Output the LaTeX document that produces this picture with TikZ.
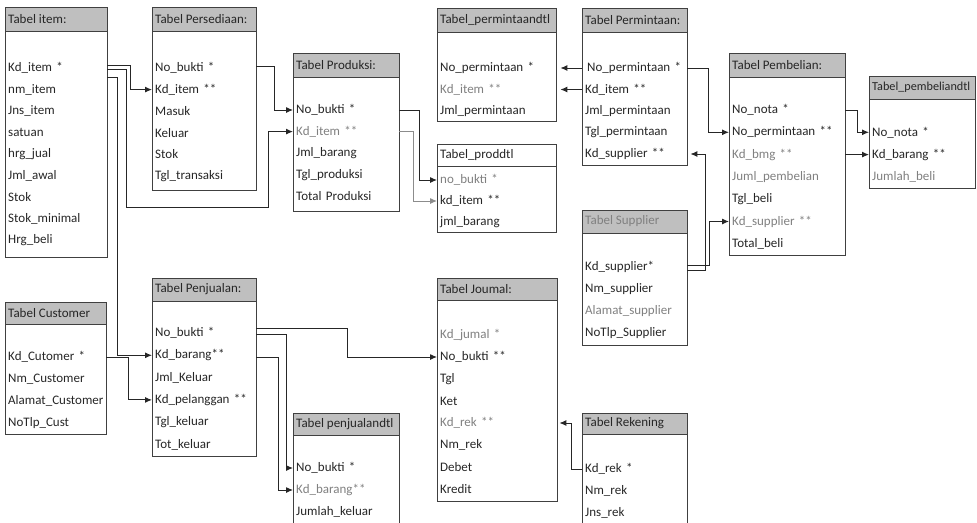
\documentclass[tikz,border=0pt]{standalone}
\usepackage{fontspec}
\setmainfont{Carlito}
\usepackage{tikz}
\usetikzlibrary{positioning,arrows,arrows.meta}

\newcommand{\lighttext}[1]{\textcolor{black!50}{#1}}
% box of one table: name, x left, x right, top, header bottom, bottom, header fill, title
\newcommand{\tabel}[8]{%
    \draw[tabline] (#2,#4) rectangle (#3,#6);
    \draw[tabline, fill=#7] (#2,#4) rectangle (#3,#5);
    \node[tabtitle] (#1) at (#2,{(#4+#5)/2}) {#8};
}
% rows of one table: name, x left, x right, first row, row step, fields
\newcommand{\kolom}[6]{%
    \pgfmathsetmacro{\lebar}{#3-#2-6}
    \foreach \f [count=\i] in {#6}
        \node[field, text width=\lebar pt] (#1-\i) at (#2,{#4+(\i-1)*#5}) {\f};
}

\begin{document}
\begin{tikzpicture}[
x=1pt, y=-1pt,
tabline/.style={draw=black!75, line width=1pt},
tabtitle/.style={anchor=west, inner xsep=3pt, text=black!85, font=\fontsize{13pt}{15pt}\selectfont},
field/.style={anchor=west, inner xsep=3pt, inner ysep=1pt, align=left, text=black!85, font=\fontsize{13pt}{15pt}\selectfont},
link/.style={->, >={Latex[length=7pt,width=6pt]}, draw=black!85, line width=1pt}
]
    \useasboundingbox (0,0) rectangle (977,522);
    \clip (0,0) rectangle (977,522);

    %Tables
    \tabel{item}{5}{107}{7}{31}{257}{black!25}{Tabel item:}
    \kolom{item}{5}{107}{68}{21.5}{Kd\_item *, nm\_item, Jns\_item, satuan, hrg\_jual, Jml\_awal, Stok, Stok\_minimal, Hrg\_beli}

    \tabel{pers}{152}{256}{7}{31}{190}{black!25}{Tabel Persediaan:}
    \kolom{pers}{152}{256}{68}{21.6}{No\_bukti *, Kd\_item **, Masuk, Keluar, Stok, Tgl\_transaksi}

    \tabel{prod}{293}{399}{53}{77}{211}{black!25}{Tabel Produksi:}
    \kolom{prod}{293}{399}{110}{21.6}{No\_bukti *, \lighttext{Kd\_item **}, Jml\_barang, Tgl\_produksi, Total Produksi}

    \tabel{pmtd}{437}{556}{8}{32}{121}{black!25}{Tabel\_permintaandtl}
    \kolom{pmtd}{437}{556}{68}{21.5}{No\_permintaan *, \lighttext{Kd\_item **}, Jml\_permintaan}

    \tabel{pdtl}{437}{556}{144}{166}{232}{white}{Tabel\_proddtl}
    \kolom{pdtl}{437}{556}{180}{21}{\lighttext{no\_bukti *}, kd\_item **, jml\_barang}

    \tabel{pmt}{582}{687}{8}{32}{165}{black!25}{Tabel Permintaan:}
    \kolom{pmt}{582}{687}{68}{21.5}{\hspace{2pt}No\_permintaan *, Kd\_item **, Jml\_permintaan, Tgl\_permintaan, Kd\_supplier **}

    \tabel{pemb}{729}{845}{53}{77}{255}{black!25}{Tabel Pembelian:}
    \kolom{pemb}{729}{845}{110}{22.3}{No\_nota *, No\_permintaan **, \lighttext{Kd\_bmg **}, \lighttext{Juml\_pembelian}, Tgl\_beli, \lighttext{Kd\_supplier **}, Total\_beli}

    \tabel{pdet}{869}{975}{76}{99}{188}{black!25}{{\fontsize{12.2pt}{15pt}\selectfont Tabel\_pembeliandtl}}
    \kolom{pdet}{869}{975}{132.3}{22.3}{No\_nota *, Kd\_barang **, \lighttext{Jumlah\_beli}}

    \tabel{sup}{582}{687}{210}{233}{345}{black!25}{\lighttext{Tabel Supplier}}
    \kolom{sup}{582}{687}{267}{22}{Kd\_supplier*, Nm\_supplier, \lighttext{Alamat\_supplier}, NoTlp\_Supplier}

    \tabel{cust}{5}{106}{302}{324}{434}{black!25}{Tabel Customer}
    \kolom{cust}{5}{106}{357}{22}{Kd\_Cutomer *, Nm\_Customer, Alamat\_Customer, NoTlp\_Cust}

    \tabel{penj}{152}{256}{278}{301}{456}{black!25}{Tabel Penjualan:}
    \kolom{penj}{152}{256}{333}{22.3}{No\_bukti *, Kd\_barang**, Jml\_Keluar, Kd\_pelanggan **, Tgl\_keluar, Tot\_keluar}

    \tabel{pjd}{293}{399}{413}{435}{540}{black!25}{Tabel penjualandtl}
    \kolom{pjd}{293}{399}{468}{22}{No\_bukti *, \lighttext{Kd\_barang**}, Jumlah\_keluar}

    \tabel{jur}{437}{557}{278}{300}{501}{black!25}{Tabel Joumal:}
    \kolom{jur}{437}{557}{335}{22}{\lighttext{Kd\_jumal *}, No\_bukti **, Tgl, Ket, \lighttext{Kd\_rek **}, Nm\_rek, Debet, Kredit}

    \tabel{rek}{582}{687}{413}{434}{540}{black!25}{Tabel Rekening}
    \kolom{rek}{582}{687}{469}{22}{Kd\_rek *, Nm\_rek, Jns\_rek}

    %Lines
    \draw[link] ([yshift=3pt]item-1.east) -- ++(23,0) |- (pers-2.west);
    \draw[link] ([yshift=-1pt]item-1.east) -| ++(19,138) -| ([xshift=-25pt]prod-2.west) -- (prod-2.west);
    \draw[link] ([yshift=-9pt]item-1.east) -- ++(10,0) |- (penj-2.west);
    \draw[link] ([yshift=2pt]pers-1.east) -- ++(18,0) |- (prod-1.west);
    \draw[link] (prod-1.east) -- ++(20,0) |- (pdtl-1.west);
    \draw[link, draw=black!45] (prod-2.east) -- ++(14,0) |- (pdtl-2.west);
    \draw[link, shorten >=4pt] (pmt-1.west) -- (pmtd-1.east);
    \draw[link, shorten >=4pt] (pmt-2.west) -- (pmtd-2.east);
    \draw[link] (pmt-1.east) -- ++(21,0) |- (pemb-2.west);
    \draw[link, shorten >=3pt] ([yshift=-3pt]sup-1.east) -- ++(18,0) |- (pmt-5.east);
    \draw[link] ([yshift=2pt]sup-1.east) -- ++(22,0) |- (pemb-6.west);
    \draw[link] (pemb-1.east) -- ++(12,0) |- (pdet-1.west);
    \draw[link] (pemb-3.east) -- (pemb-3.east -| pdet-2.west);
    \draw[link] (cust-1.east) -- ++(22,0) |- (penj-4.west);
    \draw[link] ([yshift=5pt]penj-1.east) -- ++(91,0) |- (jur-2.west);
    \draw[link] ([yshift=-1pt]penj-1.east) -- ++(30,0) |- (pjd-1.west);
    \draw[link] ([yshift=-2pt]penj-2.east) -- ++(22,0) |- (pjd-2.west);
    \draw[link, shorten >=2pt] (rek-1.west) -- ++(-11,0) |- (jur-5.east);
\end{tikzpicture}
\end{document}
